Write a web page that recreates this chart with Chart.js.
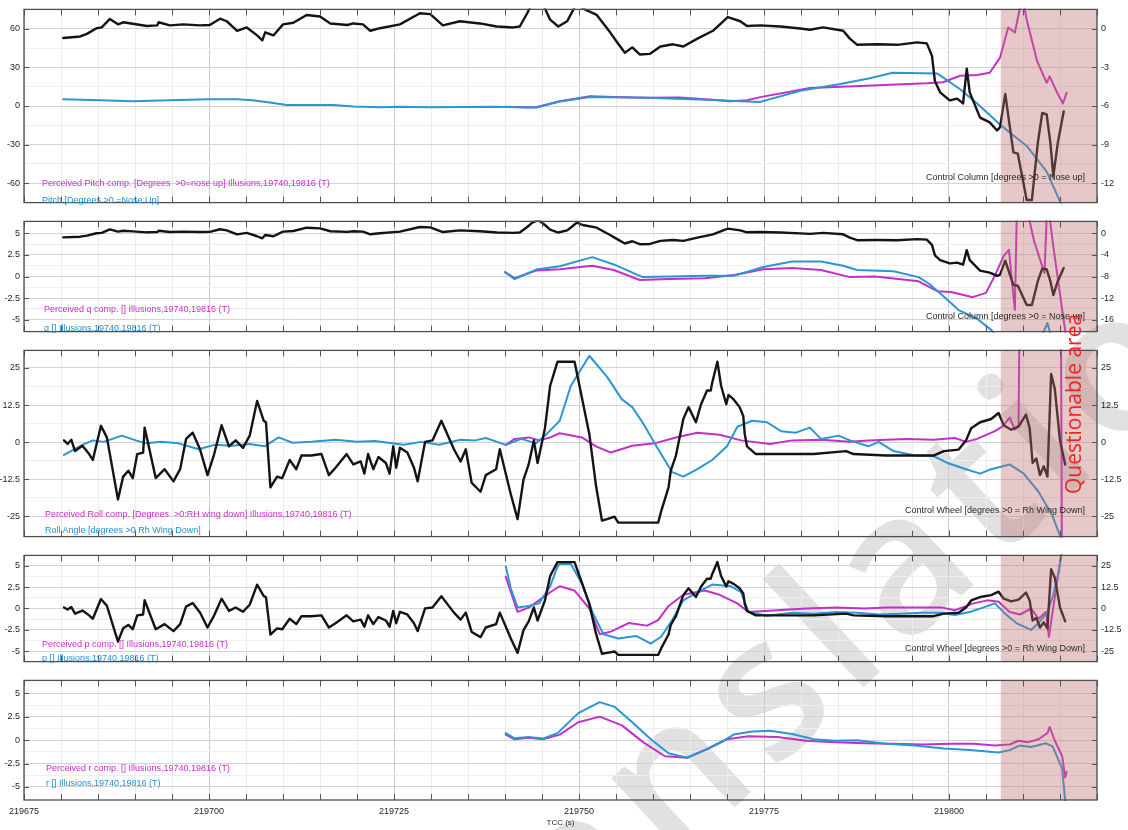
<!DOCTYPE html>
<html>
<head>
<meta charset="utf-8">
<title>Illusions 19740-19816</title>
<script src="https://cdn.jsdelivr.net/npm/chart.js@4.4.1/dist/chart.umd.min.js"></script>
<style>
    html, body { margin: 0; padding: 0; background: #fff; }
    body { width: 1128px; height: 830px; position: relative; overflow: hidden; font-family: 'Liberation Sans', Arial, sans-serif; }
    .panel { position: absolute; left: 0; width: 1128px; z-index: 1; }
    .note { position: absolute; font-size: 9px; line-height: 10px; white-space: nowrap; z-index: 2; }
    .mag { color: #c92fc9; }
    .blu { color: #2a8fcb; }
    .blk { color: #2a2a2a; right: 43px; }
    #watermark {
        position: absolute; left: 440px; top: 909px; z-index: 0;
        font-family: 'Open Sans', sans-serif; font-size: 195px; line-height: 1; font-weight: 600;
        letter-spacing: 14px; color: #e1e1e1; white-space: nowrap;
        transform-origin: 0 173px; transform: rotate(-43deg);
    }
    #questionable {
        position: absolute; left: 1073px; top: 404px; z-index: 3;
        font-family: 'Open Sans', sans-serif; font-size: 21px; color: #e8241f; white-space: nowrap;
        transform: translate(-50%, -50%) rotate(-90deg);
    }
</style>
</head>
<body>
<div id="watermark">translation</div>

<div class="panel" style="top:0;height:212px"><canvas id="pitchChart"></canvas></div>
<div class="panel" style="top:212px;height:129px"><canvas id="qChart"></canvas></div>
<div class="panel" style="top:341px;height:205px"><canvas id="rollChart"></canvas></div>
<div class="panel" style="top:546px;height:125px"><canvas id="pChart"></canvas></div>
<div class="panel" style="top:671px;height:159px"><canvas id="rChart"></canvas></div>

<div class="note mag" style="left:42px;top:178px">Perceived Pitch comp. [Degrees &nbsp;&gt;0=nose up] Illusions,19740,19816 (T)</div>
<div class="note blu" style="left:42px;top:195px">Pitch [Degrees &gt;0 =Nose Up]</div>
<div class="note blk" style="top:172px">Control Column [degrees &gt;0 = Nose up]</div>

<div class="note mag" style="left:44px;top:304px">Perceived q comp. [] Illusions,19740,19816 (T)</div>
<div class="note blu" style="left:44px;top:323px">q [] Illusions,19740,19816 (T)</div>
<div class="note blk" style="top:311px">Control Column [degrees &gt;0 = Nose up]</div>

<div class="note mag" style="left:45px;top:509px">Perceived Roll comp. [Degrees &nbsp;&gt;0:RH wing down] Illusions,19740,19816 (T)</div>
<div class="note blu" style="left:45px;top:525px">Roll Angle [degrees &gt;0 Rh Wing Down]</div>
<div class="note blk" style="top:505px">Control Wheel [degrees &gt;0 = Rh Wing Down]</div>

<div class="note mag" style="left:42px;top:639px">Perceived p comp. [] Illusions,19740,19816 (T)</div>
<div class="note blu" style="left:42px;top:653px">p [] Illusions,19740,19816 (T)</div>
<div class="note blk" style="top:643px">Control Wheel [degrees &gt;0 = Rh Wing Down]</div>

<div class="note mag" style="left:46px;top:763px">Perceived r comp. [] Illusions,19740,19816 (T)</div>
<div class="note blu" style="left:46px;top:778px">r [] Illusions,19740,19816 (T)</div>

<div id="questionable">Questionable area</div>

<script>
// TCC (s) range and the start of the questionable segment
const tccMin = 219675;
const tccMax = 219820;
const questionableFrom = 219807;

// tick labels per panel
const pitchTicks = [60, 30, 0, -30, -60];
const columnTicksTop = [0, -3, -6, -9, -12];
const rateTicks = [5, 2.5, 0, -2.5, -5];
const columnTicksQ = [0, -4, -8, -12, -16];
const rollTicks = [25, 12.5, 0, -12.5, -25];

// Control Column [degrees >0 = Nose up]
const controlColumn = [
    [219680.3, -0.72], [219682.6, -0.60], [219683.5, -0.40], [219684.8, 0.04], [219685.5, 0.10],
    [219686.6, 0.76], [219687.7, 0.34], [219688.4, 0.50], [219689.7, 0.39], [219691.6, 0.21],
    [219693.0, 0.26], [219693.2, 0.50], [219694.7, 0.26], [219696.5, 0.34], [219698.8, 0.26],
    [219700.1, 0.29], [219701.5, 0.78], [219702.4, 0.58], [219703.8, -0.16], [219705.1, 0.10],
    [219706.5, -0.52], [219707.2, -0.90], [219707.6, -0.28], [219708.7, -0.52], [219710.0, 0.34],
    [219711.4, 0.46], [219713.2, 1.07], [219715.0, 0.95], [219716.4, 0.41], [219718.7, 0.29],
    [219719.5, 0.41], [219720.8, 0.34], [219721.8, -0.16], [219723.1, 0.04], [219725.8, 0.34],
    [219728.5, 1.20], [219729.9, 1.13], [219731.6, 0.26], [219733.9, 0.58], [219736.6, 0.41],
    [219738.9, 0.17], [219741.1, 0.10], [219742.0, 0.17], [219743.0, 1.20], [219743.7, 2.00],
    [219744.5, 2.50], [219745.4, 1.57], [219746.1, 0.70], [219747.2, 0.17], [219748.4, 0.58],
    [219749.2, 1.44], [219749.7, 2.00], [219750.5, 1.57], [219752.4, 1.07], [219754.2, -0.28],
    [219755.1, -1.01], [219756.2, -1.87], [219757.2, -1.45], [219758.2, -2.00], [219759.6, -1.95],
    [219761.0, -1.38], [219762.7, -1.21], [219764.1, -1.38], [219766.0, -0.77], [219768.1, -0.16],
    [219770.1, 0.90], [219771.8, 0.58], [219772.7, 0.21], [219774.5, 0.26], [219777.2, 0.17],
    [219779.9, 0.02], [219781.2, -0.08], [219783.0, 0.10], [219785.7, -0.16], [219786.6, -0.77],
    [219787.6, -1.25], [219790.3, -1.21], [219793.0, -1.25], [219795.7, -1.06], [219797.0, -1.14],
    [219797.7, -2.11], [219798.1, -4.08], [219798.8, -4.94], [219800.1, -5.56], [219801.1, -5.43],
    [219801.9, -5.80], [219802.4, -3.10], [219802.8, -4.94], [219804.2, -6.90], [219805.5, -7.27],
    [219806.5, -7.90], [219806.9, -7.64], [219807.6, -5.06], [219808.7, -9.60], [219809.3, -9.70],
    [219810.5, -13.30], [219811.2, -13.30], [219812.0, -8.87], [219812.6, -6.54], [219813.2, -6.66],
    [219813.7, -8.87], [219814.1, -11.45], [219814.7, -8.87], [219815.5, -6.42]
];

// Pitch [Degrees >0 =Nose Up]
const pitch = [
    [219680.3, 5.2], [219685.3, 4.4], [219689.7, 3.7], [219694.7, 4.4], [219699.9, 5.2],
    [219703.8, 5.2], [219705.9, 4.4], [219708.2, 2.7], [219710.5, 0.7], [219716.8, 0.7],
    [219719.5, -0.3], [219723.1, -1.0], [219725.8, -0.5], [219729.9, -1.0], [219733.9, -0.8],
    [219738.9, -0.6], [219740.0, -0.8], [219744.3, -1.2], [219747.4, 3.5], [219751.5, 7.0],
    [219759.2, 6.4], [219768.1, 4.6], [219772.7, 3.4], [219774.5, 3.2], [219779.9, 11.8],
    [219785.3, 17.0], [219789.3, 21.6], [219792.4, 25.8], [219798.4, 25.3], [219801.5, 13.0],
    [219803.8, 2.0], [219805.5, -7.0], [219807.0, -15.0], [219810.5, -31.0], [219813.2, -51.0],
    [219815.0, -74.0], [219815.5, -80.0]
];

// Perceived Pitch comp.
const perceivedPitch = [
    [219740.0, -0.5], [219743.4, -1.2], [219744.3, -0.7], [219747.4, 3.7], [219751.5, 7.6],
    [219754.6, 6.9], [219759.2, 6.4], [219763.6, 6.6], [219768.1, 4.9], [219770.4, 3.7],
    [219772.7, 4.4], [219774.5, 6.9], [219781.2, 14.0], [219788.0, 15.5], [219797.0, 17.6],
    [219799.2, 18.4], [219801.5, 23.5], [219803.8, 24.0], [219805.5, 25.8], [219806.9, 37.6],
    [219808.0, 61.0], [219808.9, 57.0], [219809.9, 85.0], [219810.5, 67.0], [219811.9, 35.0],
    [219813.2, 18.0], [219813.6, 23.0], [219814.6, 10.5], [219815.4, 2.0], [219815.9, 10.5]
];

// q []
const q = [
    [219740.0, 0.5], [219741.3, -0.3], [219744.2, 0.8], [219747.4, 1.2], [219751.8, 2.25],
    [219754.7, 1.4], [219758.6, -0.07], [219762.2, 0.0], [219767.0, 0.1], [219771.0, 0.1],
    [219774.9, 1.1], [219778.8, 1.75], [219782.7, 1.75], [219785.7, 1.25], [219787.6, 0.76],
    [219792.5, 0.6], [219795.9, -0.07], [219797.4, -0.9], [219799.4, -2.4], [219801.3, -3.9],
    [219803.8, -4.9], [219805.7, -6.2], [219808.0, -8.5], [219811.0, -10.0], [219813.3, -5.4],
    [219814.5, -9.0], [219816.0, -12.0]
];

// Perceived q comp.
const perceivedQ = [
    [219740.0, 0.5], [219741.3, -0.2], [219744.2, 0.7], [219747.4, 0.83], [219751.8, 1.26],
    [219754.7, 0.76], [219758.2, -0.4], [219762.2, -0.3], [219767.0, -0.2], [219771.0, 0.17],
    [219774.9, 0.83], [219778.8, 1.0], [219782.7, 0.76], [219786.6, -0.07], [219790.0, 0.0],
    [219794.4, -0.4], [219795.9, -0.56], [219798.4, -1.7], [219800.3, -1.8], [219803.2, -2.4],
    [219805.0, -1.9], [219806.2, 0.1], [219807.4, 2.4], [219808.1, 3.1], [219808.9, -3.9],
    [219809.2, 9.0], [219810.5, 8.0], [219811.5, 4.1], [219812.9, 0.4], [219813.3, 9.0],
    [219814.0, 4.1], [219815.3, -3.9], [219816.0, -8.0]
];

// Roll Angle [degrees >0 Rh Wing Down]
const rollAngle = [
    [219680.4, -4.3], [219682.9, -0.9], [219684.3, 0.6], [219685.8, 0.1], [219688.2, 2.2],
    [219690.1, 0.6], [219691.6, -0.4], [219693.5, 0.1], [219695.9, -0.4], [219698.6, -2.4],
    [219700.7, -0.9], [219703.1, -1.2], [219705.5, -0.6], [219707.5, -1.4], [219709.4, 1.6],
    [219711.3, -0.2], [219713.8, 0.1], [219717.1, 0.8], [219720.0, 0.1], [219722.4, 0.4],
    [219726.3, -0.9], [219728.7, 0.1], [219731.1, -0.9], [219734.0, 0.8], [219736.0, 0.6],
    [219737.4, 1.4], [219740.1, -0.9], [219742.2, 1.1], [219744.2, -0.4], [219745.6, 2.7],
    [219747.4, 7.2], [219748.9, 19.0], [219751.4, 29.1], [219753.8, 22.0], [219755.8, 14.4],
    [219757.2, 11.8], [219758.7, 6.2], [219760.7, -2.4], [219762.6, -10.1], [219764.1, -11.6],
    [219766.0, -9.1], [219768.0, -6.0], [219770.0, -1.4], [219771.4, 5.2], [219773.4, 7.2],
    [219775.4, 6.7], [219777.3, 3.7], [219779.3, 3.2], [219781.2, 4.9], [219782.7, 1.1],
    [219785.1, 2.2], [219786.6, 0.6], [219789.1, -1.4], [219790.5, 0.1], [219792.5, -3.0],
    [219795.4, -4.5], [219797.9, -4.7], [219799.8, -7.0], [219802.3, -9.1], [219804.2, -10.6],
    [219805.7, -9.1], [219808.2, -7.5], [219810.1, -10.6], [219812.1, -16.7], [219814.0, -24.9],
    [219815.0, -31.5], [219815.5, -36.0]
];

// Perceived Roll comp.
const perceivedRoll = [
    [219740.1, -0.9], [219741.3, 1.1], [219743.2, 1.6], [219744.6, 0.6], [219746.1, 1.6],
    [219747.4, 3.0], [219750.4, 1.6], [219752.3, -1.4], [219754.3, -3.5], [219757.2, -1.2],
    [219760.2, -0.4], [219763.1, 1.6], [219766.0, 3.2], [219769.0, 2.5], [219771.9, 0.6],
    [219775.8, -0.6], [219778.8, 0.6], [219782.7, 0.8], [219786.6, 0.1], [219789.1, 0.6],
    [219791.5, 0.8], [219794.4, 1.1], [219797.9, 0.8], [219800.8, 1.4], [219802.3, 0.1],
    [219803.8, 1.1], [219806.2, 3.7], [219807.2, 5.2], [219808.2, 8.3], [219808.9, 4.2],
    [219809.4, 5.7], [219809.6, 60.0], [219815.1, 60.0], [219815.3, -60.0]
];

// Control Wheel [degrees >0 = Rh Wing Down]
const controlWheel = [
    [219680.4, 0.6], [219680.9, -0.6], [219681.4, 0.8], [219681.9, -3.0], [219682.9, -1.2],
    [219683.8, -4.0], [219684.3, -6.0], [219685.4, 5.5], [219686.2, 1.6], [219687.7, -19.3],
    [219688.4, -11.6], [219689.1, -9.6], [219689.7, -12.1], [219690.3, -4.0], [219691.1, -3.5],
    [219691.3, 4.9], [219692.8, -12.1], [219694.0, -9.1], [219695.2, -13.2], [219696.1, -9.1],
    [219696.9, 1.1], [219697.8, 3.2], [219698.8, -2.5], [219699.8, -11.1], [219700.7, -4.0],
    [219701.7, 5.7], [219702.7, -1.4], [219703.6, 0.6], [219704.6, -1.9], [219705.5, 2.2],
    [219706.5, 13.9], [219707.4, 7.2], [219707.7, 6.7], [219708.3, -15.2], [219709.2, -11.6],
    [219709.9, -12.1], [219710.9, -6.0], [219711.8, -9.1], [219712.5, -4.5], [219713.8, -4.5],
    [219715.2, -4.0], [219716.2, -11.1], [219717.1, -8.6], [219718.6, -4.0], [219719.5, -7.5],
    [219720.5, -6.5], [219721.0, -10.6], [219721.5, -4.0], [219722.2, -9.1], [219722.9, -5.0],
    [219723.9, -7.0], [219724.4, -10.6], [219724.9, -1.4], [219725.3, -8.6], [219725.8, -1.9],
    [219726.8, -3.5], [219727.7, -8.6], [219728.2, -13.2], [219729.2, 0.1], [219730.2, 0.6],
    [219731.4, 7.2], [219733.1, -2.4], [219734.0, -6.5], [219734.7, -2.4], [219735.5, -13.7],
    [219736.7, -16.7], [219737.4, -11.1], [219738.8, -9.1], [219739.3, -2.4], [219740.8, -17.7],
    [219741.7, -25.9], [219742.5, -12.6], [219743.2, -7.5], [219743.9, 0.6], [219744.4, -7.0],
    [219745.4, 4.7], [219746.1, 19.0], [219747.1, 27.1], [219749.4, 27.1], [219749.9, 21.0],
    [219750.4, 14.9], [219751.4, 2.7], [219752.3, -14.7], [219753.1, -26.4], [219753.8, -25.9],
    [219754.8, -25.1], [219755.3, -27.1], [219760.7, -27.1], [219761.1, -23.3], [219762.1, -15.2],
    [219762.4, -9.6], [219763.1, -4.5], [219764.1, 7.8], [219764.8, 11.8], [219765.8, 6.7],
    [219766.5, 12.8], [219767.3, 17.4], [219767.8, 17.4], [219768.0, 20.0], [219768.7, 27.1],
    [219769.2, 19.0], [219769.9, 12.8], [219770.2, 15.9], [219770.9, 14.4], [219771.7, 11.8],
    [219772.2, 8.8], [219772.4, 2.7], [219772.7, -1.4], [219773.9, -4.0], [219781.7, -4.0],
    [219786.1, -3.0], [219787.1, -4.0], [219791.5, -4.5], [219797.9, -4.5], [219799.3, -3.0],
    [219801.3, -2.5], [219802.3, 0.6], [219803.0, 4.7], [219804.2, 6.7], [219805.7, 7.8],
    [219806.7, 9.8], [219807.4, 5.7], [219808.4, 4.2], [219809.4, 5.2], [219810.4, 9.3],
    [219810.9, 4.7], [219811.3, -7.0], [219811.8, -5.5], [219812.3, -11.1], [219812.8, -8.1],
    [219813.3, -11.6], [219813.8, 23.0], [219814.3, 17.9], [219815.0, 0.6], [219815.7, -7.5]
];

// p []
const p = [
    [219740.1, 4.9], [219740.8, 2.3], [219741.7, 0.13], [219743.2, 0.3], [219744.6, 0.6],
    [219746.1, 2.6], [219747.1, 4.9], [219747.4, 5.2], [219748.9, 5.2], [219750.4, 2.9],
    [219751.8, -0.4], [219753.3, -3.0], [219755.3, -3.5], [219757.7, -3.2], [219759.7, -4.1],
    [219761.1, -3.3], [219762.6, -1.35], [219764.1, 0.95], [219766.0, 1.9], [219768.0, 2.8],
    [219770.5, 2.6], [219771.9, 1.9], [219772.9, -0.4], [219775.4, -0.85], [219778.8, -0.5],
    [219781.7, -0.6], [219784.7, -0.4], [219787.6, -0.5], [219790.5, -0.7], [219793.5, -0.6],
    [219796.4, -0.5], [219798.9, -0.5], [219800.8, -0.75], [219802.8, -0.4], [219804.7, 0.13],
    [219806.2, 0.6], [219807.7, -0.7], [219809.1, -1.7], [219811.1, -2.5], [219812.1, -1.7],
    [219813.3, -0.4], [219814.0, 1.3], [219814.8, 4.2], [219815.3, 7.0]
];

// Perceived p comp.
const perceivedP = [
    [219740.1, 3.7], [219740.8, 1.9], [219741.7, -0.4], [219743.2, 0.1], [219744.6, 0.95],
    [219746.1, 1.9], [219747.4, 2.6], [219749.4, 2.1], [219751.4, 0.0], [219752.8, -3.0],
    [219754.3, -2.7], [219756.7, -1.7], [219759.2, -2.0], [219760.7, -1.35], [219762.1, 0.3],
    [219764.1, 1.6], [219767.0, 2.1], [219769.0, 1.6], [219771.4, 0.6], [219772.9, -0.4],
    [219776.8, -0.2], [219780.7, 0.0], [219784.7, 0.13], [219788.6, 0.0], [219791.5, 0.13],
    [219795.4, 0.13], [219798.9, 0.13], [219800.8, -0.2], [219803.3, 0.6], [219805.2, 0.95],
    [219806.7, 0.8], [219808.2, -0.4], [219809.6, -0.7], [219811.1, 0.0], [219812.1, -1.2],
    [219813.1, -0.4], [219813.5, -3.3], [219814.0, -0.4], [219814.8, 4.2], [219815.3, 7.0]
];

// r []
const r = [
    [219740.1, 0.76], [219741.3, 0.2], [219743.2, 0.33], [219745.1, 0.17], [219747.1, 0.76],
    [219749.9, 2.9], [219752.8, 4.07], [219754.8, 3.57], [219757.2, 1.92], [219759.7, 0.1],
    [219762.1, -1.39], [219764.6, -1.88], [219767.0, -1.06], [219769.5, -0.06], [219770.9, 0.6],
    [219773.4, 0.93], [219775.8, 1.0], [219778.8, 0.66], [219781.7, 0.1], [219784.7, -0.06],
    [219787.6, 0.0], [219791.5, -0.39], [219795.4, -0.56], [219799.3, -0.89], [219802.8, -1.06],
    [219806.7, -1.32], [219808.2, -1.06], [219809.6, -0.56], [219811.1, -0.73], [219813.1, -0.33],
    [219814.0, -0.66], [219815.3, -3.04], [219815.7, -6.5]
];

// Perceived r comp.
const perceivedR = [
    [219740.1, 0.6], [219741.3, 0.1], [219743.2, 0.25], [219745.1, 0.1], [219747.4, 0.6],
    [219749.9, 1.92], [219752.8, 2.52], [219755.8, 1.59], [219758.7, -0.23], [219761.6, -1.72],
    [219764.6, -1.88], [219767.5, -0.89], [219770.0, 0.1], [219772.9, 0.43], [219776.8, 0.33],
    [219780.7, -0.06], [219784.7, -0.23], [219788.6, -0.33], [219792.5, -0.39], [219796.4, -0.46],
    [219800.3, -0.39], [219803.3, -0.39], [219806.2, -0.56], [219808.2, -0.46], [219809.4, -0.06],
    [219810.6, -0.23], [219812.1, 0.1], [219813.3, 0.76], [219813.6, 1.42], [219814.3, -0.06],
    [219815.3, -1.72], [219815.7, -3.97], [219815.9, -3.37]
];

document.addEventListener('DOMContentLoaded', function () {
    Chart.defaults.font.family = "'Liberation Sans', Arial, sans-serif";
    Chart.defaults.color = '#262626';

    const blue = '#2a96d4';
    const magenta = '#c52ec9';
    const black = '#141414';

    const toPoints = arr => arr.map(([x, y]) => ({ x, y }));

    function series(data, color, axis, width) {
        return { data: toPoints(data), borderColor: color, borderWidth: width, yAxisID: axis, clip: 1 };
    }

    // shaded "questionable" band, frame and inward tick marks, like the original plot
    const panelFrame = {
        id: 'panelFrame',
        afterDatasetsDraw(chart) {
            const { ctx, chartArea: a } = chart;
            const x = chart.scales.x;
            const y = chart.scales.y;
            const sx = x.getPixelForValue(questionableFrom);

            ctx.save();
            ctx.fillStyle = 'rgba(190, 110, 110, 0.38)';
            ctx.fillRect(sx, a.top, a.right - sx, a.bottom - a.top);

            ctx.strokeStyle = '#555';
            ctx.lineWidth = 1;
            ctx.beginPath();
            x.ticks.forEach(t => {
                const px = Math.round(x.getPixelForValue(t.value)) + 0.5;
                ctx.moveTo(px, a.top); ctx.lineTo(px, a.top + 6);
                ctx.moveTo(px, a.bottom); ctx.lineTo(px, a.bottom - 6);
            });
            y.ticks.filter(t => t.label !== '').forEach(t => {
                const py = Math.round(y.getPixelForValue(t.value)) + 0.5;
                ctx.moveTo(a.left, py); ctx.lineTo(a.left + 5, py);
                ctx.moveTo(a.right, py); ctx.lineTo(a.right - 5, py);
            });
            ctx.stroke();

            ctx.lineWidth = 1.3;
            ctx.strokeStyle = '#4f4f4f';
            ctx.strokeRect(a.left, a.top, a.right - a.left, a.bottom - a.top);
            ctx.restore();
        }
    };

    function xScale(showLabels) {
        return {
            type: 'linear',
            min: tccMin,
            max: tccMax,
            border: { display: false },
            grid: { drawTicks: false, color: c => (c.tick.value % 25 === 0 ? '#cbcbcb' : '#ededed') },
            ticks: {
                display: showLabels, stepSize: 5, autoSkip: false, maxRotation: 0, padding: 6,
                font: { size: 9 },
                callback: v => (v % 25 === 0 ? String(v) : '')
            },
            title: { display: showLabels, text: 'TCC (s)', font: { size: 8 }, padding: { top: 0, bottom: 2 } },
            afterFit: s => { s.height = showLabels ? 30 : 0; }
        };
    }

    function yScale(range, major, side) {
        const minor = major.slice(1).map((v, i) => (v + major[i]) / 2);
        return {
            position: side,
            min: range[0],
            max: range[1],
            border: { display: false },
            afterBuildTicks: s => { s.ticks = major.concat(minor).map(v => ({ value: v })); },
            afterFit: s => { s.width = side === 'left' ? 24 : 31; },
            grid: side === 'left'
                ? { drawTicks: false, color: c => (major.includes(c.tick.value) ? '#d3d3d3' : '#eeeeee') }
                : { drawTicks: false, drawOnChartArea: false },
            ticks: {
                autoSkip: false, padding: 4, font: { size: 9 },
                callback: v => (major.includes(v) ? String(v) : '')
            }
        };
    }

    function makePanel(canvasId, datasets, left, leftTicks, right, rightTicks, topPad, showX) {
        new Chart(document.getElementById(canvasId), {
            type: 'line',
            data: { datasets },
            options: {
                responsive: true,
                maintainAspectRatio: false,
                animation: false,
                events: [],
                layout: { padding: { top: topPad } },
                elements: {
                    point: { radius: 0 },
                    line: { tension: 0, borderJoinStyle: 'round', borderCapStyle: 'round' }
                },
                plugins: { legend: { display: false }, tooltip: { enabled: false } },
                scales: {
                    x: xScale(showX),
                    y: yScale(left, leftTicks, 'left'),
                    y1: yScale(right, rightTicks, 'right')
                }
            },
            plugins: [panelFrame]
        });
    }

    makePanel('pitchChart', [
        series(controlColumn, black, 'y1', 2.4),
        series(pitch, blue, 'y', 2),
        series(perceivedPitch, magenta, 'y', 2)
    ], [-75, 75], pitchTicks, [-13.5, 1.5], columnTicksTop, 8, false);

    makePanel('qChart', [
        series(controlColumn, black, 'y1', 2.4),
        series(q, blue, 'y', 2),
        series(perceivedQ, magenta, 'y', 2)
    ], [-6.4, 6.4], rateTicks, [-18.24, 2.24], columnTicksQ, 0, false);

    makePanel('rollChart', [
        series(controlWheel, black, 'y1', 2.4),
        series(rollAngle, blue, 'y', 2),
        series(perceivedRoll, magenta, 'y', 2)
    ], [-31.8, 30.9], rollTicks, [-31.8, 30.9], rollTicks, 0, false);

    makePanel('pChart', [
        series(controlWheel, black, 'y1', 2.4),
        series(p, blue, 'y', 2),
        series(perceivedP, magenta, 'y', 2)
    ], [-6.2, 6.2], rateTicks, [-31, 31], rollTicks, 0, false);

    makePanel('rChart', [
        series(r, blue, 'y', 2),
        series(perceivedR, magenta, 'y', 2)
    ], [-6.4, 6.4], rateTicks, [-1, 1], [], 0, true);
});
</script>
</body>
</html>
